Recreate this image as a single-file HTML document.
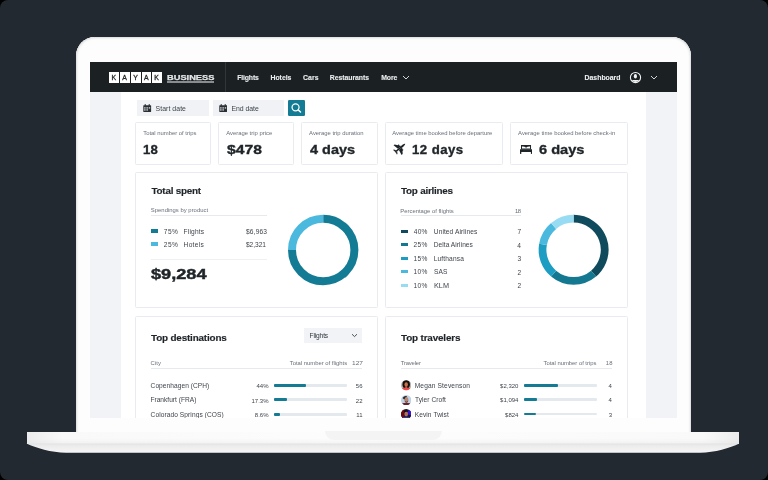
<!DOCTYPE html>
<html><head><meta charset="utf-8">
<style>
*{box-sizing:border-box;margin:0;padding:0}
html,body{width:768px;height:480px;overflow:hidden;background:#000;font-family:"Liberation Sans",sans-serif}
.a{position:absolute}
.t{position:absolute;line-height:1;white-space:nowrap}
#lid{left:76px;top:37px;width:615px;height:400px;background:#fdfdfd;border-radius:19px 19px 4px 4px;box-shadow:inset 0 0 0 1px #e2e3e4,inset 0 0 1.5px 2px #f1f1f1}
#screen{left:90px;top:62px;width:587px;height:355.5px;background:#fff;overflow:hidden;will-change:transform}
#base{left:26.5px;top:431.5px;width:712.8px;height:12.2px;background:linear-gradient(180deg,rgba(253,253,253,0) 0%,rgba(253,253,253,0) 55%,rgba(225,225,225,.35) 100%),linear-gradient(90deg,#ececec 0%,#f9f9f9 5%,#fdfdfd 50%,#f9f9f9 95%,#ececec 100%)}
#notch{left:325px;top:431px;width:117px;height:9px;background:#f4f4f5;border-radius:0 0 9px 9px}
.nav{background:#1b2023}
.navt{color:#eceeef;font-weight:700}
.card{position:absolute;border:1px solid #e8ecf0;background:#fff;border-radius:1.5px}
.lbl{color:#68707a}
.big{color:#1f2428;font-weight:700;-webkit-text-stroke:0.35px #1f2428}
.h{color:#1f2428;font-weight:700;-webkit-text-stroke:0.15px #1f2428}
.row{color:#3f454b}
.num{color:#3f454b}
</style></head><body>
<div class="a" style="left:0;top:0;width:768px;height:480px;background:#232930;border-radius:8px"></div>
<div id="lid" class="a"></div>
<div id="base" class="a"></div>
<svg class="a" style="left:0;top:0" width="768" height="480"><defs><linearGradient id="bg2" x1="0" y1="0" x2="0" y2="1"><stop offset="0" stop-color="#e3e3e3"/><stop offset="0.25" stop-color="#ececec"/><stop offset="1" stop-color="#f6f6f6"/></linearGradient></defs><path d="M26.5 443.6 H739.3 C730 448 715 452.7 700 452.7 H66 C51 452.7 36 448 26.5 443.6Z" fill="url(#bg2)"/></svg>
<div id="notch" class="a"></div>
<div id="screen" class="a"><div class="a" style="left:-90px;top:-62px;width:768px;height:480px">
<div class="a nav" style="left:90px;top:62px;width:587px;height:30px"></div>
<div class="a" style="left:109.1px;top:72.2px;width:9.9px;height:10.4px;background:#fff"></div>
<div class="t " style="left:111.41px;top:75.00px;font-size:6.900px;color:#1b2023;-webkit-text-stroke:0.3px #1b2023">K</div>
<div class="a" style="left:119.9px;top:72.2px;width:9.9px;height:10.4px;background:#fff"></div>
<div class="t " style="left:122.37px;top:75.00px;font-size:6.900px;color:#1b2023;-webkit-text-stroke:0.3px #1b2023">A</div>
<div class="a" style="left:130.8px;top:72.2px;width:9.9px;height:10.4px;background:#fff"></div>
<div class="t " style="left:133.27px;top:75.00px;font-size:6.900px;color:#1b2023;-webkit-text-stroke:0.3px #1b2023">Y</div>
<div class="a" style="left:141.5px;top:72.2px;width:9.9px;height:10.4px;background:#fff"></div>
<div class="t " style="left:143.89px;top:75.00px;font-size:6.900px;color:#1b2023;-webkit-text-stroke:0.3px #1b2023">A</div>
<div class="a" style="left:152.1px;top:72.2px;width:9.9px;height:10.4px;background:#fff"></div>
<div class="t " style="left:154.21px;top:75.00px;font-size:6.900px;color:#1b2023;-webkit-text-stroke:0.3px #1b2023">K</div>
<div class="t navt" style="left:166.52px;top:74.00px;font-size:7.300px;transform:scaleX(1.2708);transform-origin:0 0;color:#e3e5e6;-webkit-text-stroke:0.25px #e3e5e6">BUSINESS</div>
<div class="a" style="left:167px;top:81px;width:47px;height:2px;background:#8a8d90"></div>
<div class="a" style="left:225px;top:62px;width:1px;height:30px;background:#30363a"></div>
<div class="t navt" style="left:237.27px;top:75.00px;font-size:6.900px;letter-spacing:-0.167px;-webkit-text-stroke:0.1px #eceeef">Flights</div>
<div class="t navt" style="left:270.47px;top:75.00px;font-size:6.900px;letter-spacing:-0.015px;-webkit-text-stroke:0.1px #eceeef">Hotels</div>
<div class="t navt" style="left:302.98px;top:75.00px;font-size:6.900px;letter-spacing:0.084px;-webkit-text-stroke:0.1px #eceeef">Cars</div>
<div class="t navt" style="left:329.82px;top:75.00px;font-size:6.900px;letter-spacing:-0.062px;-webkit-text-stroke:0.1px #eceeef">Restaurants</div>
<div class="t navt" style="left:381.17px;top:75.00px;font-size:6.900px;letter-spacing:-0.094px;-webkit-text-stroke:0.1px #eceeef">More</div>
<div class="t navt" style="left:584.57px;top:75.00px;font-size:6.900px;letter-spacing:-0.008px;-webkit-text-stroke:0.1px #eceeef">Dashboard</div>
<svg class="a" style="left:402.3px;top:75px" width="8" height="5" viewBox="0 0 8 5"><path d="M1 1 L4 4 L7 1" fill="none" stroke="#e6e8e9" stroke-width="0.9"/></svg>
<svg class="a" style="left:629px;top:71px" width="13" height="13" viewBox="0 0 13 13"><circle cx="6.5" cy="6.5" r="5.1" fill="none" stroke="#f2f3f4" stroke-width="1.05"/><ellipse cx="6.4" cy="5.3" rx="1.55" ry="2.25" fill="#f2f3f4"/><path d="M2.7 9.1 H10.3 A4.6 4.6 0 0 1 2.7 9.1Z" fill="#f2f3f4"/></svg>
<svg class="a" style="left:650px;top:75px" width="8" height="5" viewBox="0 0 8 5"><path d="M1 1 L4 4 L7 1" fill="none" stroke="#e6e8e9" stroke-width="0.9"/></svg>
<div class="a" style="left:90px;top:92px;width:31px;height:330px;background:#f1f3f6"></div>
<div class="a" style="left:646px;top:92px;width:31px;height:330px;background:#f1f3f6"></div>
<div class="a" style="left:137px;top:99.8px;width:72px;height:16.4px;background:#f0f2f5"></div>
<div class="a" style="left:212.5px;top:99.8px;width:71.5px;height:16.4px;background:#f0f2f5"></div>
<div class="a" style="left:288.1px;top:99.5px;width:16.9px;height:16.6px;background:#147b95;border-radius:1.2px"></div>
<svg class="a" style="left:143px;top:103.6px" width="8.6" height="8.3" viewBox="0 0 9 9" preserveAspectRatio="none"><rect x="0.3" y="1.3" width="8.2" height="7.4" rx="0.6" fill="#2a2f33"/><rect x="1.8" y="0" width="1" height="2.2" fill="#2a2f33"/><rect x="6" y="0" width="1" height="2.2" fill="#2a2f33"/><rect x="1.2" y="3.6" width="1.5" height="1.3" fill="#f0f2f5"/><rect x="3.6" y="3.6" width="1.5" height="1.3" fill="#f0f2f5"/><rect x="6" y="3.6" width="1.5" height="1.3" fill="#f0f2f5"/><rect x="1.2" y="5.8" width="1.5" height="1.3" fill="#f0f2f5"/><rect x="3.6" y="5.8" width="1.5" height="1.3" fill="#f0f2f5"/></svg>
<svg class="a" style="left:218.7px;top:103.6px" width="8.6" height="8.3" viewBox="0 0 9 9" preserveAspectRatio="none"><rect x="0.3" y="1.3" width="8.2" height="7.4" rx="0.6" fill="#2a2f33"/><rect x="1.8" y="0" width="1" height="2.2" fill="#2a2f33"/><rect x="6" y="0" width="1" height="2.2" fill="#2a2f33"/><rect x="1.2" y="3.6" width="1.5" height="1.3" fill="#f0f2f5"/><rect x="3.6" y="3.6" width="1.5" height="1.3" fill="#f0f2f5"/><rect x="6" y="3.6" width="1.5" height="1.3" fill="#f0f2f5"/><rect x="1.2" y="5.8" width="1.5" height="1.3" fill="#f0f2f5"/><rect x="3.6" y="5.8" width="1.5" height="1.3" fill="#f0f2f5"/></svg>
<div class="t " style="left:155.58px;top:106.00px;font-size:6.900px;letter-spacing:0.053px;color:#3d4349">Start date</div>
<div class="t " style="left:231.46px;top:106.00px;font-size:6.900px;letter-spacing:-0.029px;color:#3d4349">End date</div>
<svg class="a" style="left:289px;top:100px" width="15" height="16" viewBox="0 0 15 16"><circle cx="6.55" cy="7.3" r="3.5" fill="none" stroke="#fff" stroke-width="1.25"/><path d="M9.2 9.9 L11.5 12" stroke="#fff" stroke-width="1.5" stroke-linecap="round"/></svg>
<div class="card" style="left:135px;top:122px;width:75.5px;height:42.8px"></div>
<div class="card" style="left:218px;top:122px;width:75.7px;height:42.8px"></div>
<div class="card" style="left:301px;top:122px;width:76.5px;height:42.8px"></div>
<div class="card" style="left:385px;top:122px;width:117.5px;height:42.8px"></div>
<div class="card" style="left:510px;top:122px;width:117.8px;height:42.8px"></div>
<div class="t lbl" style="left:143.21px;top:131.00px;font-size:5.900px;letter-spacing:-0.011px;">Total number of trips</div>
<div class="t lbl" style="left:226.20px;top:131.00px;font-size:5.900px;letter-spacing:-0.005px;">Average trip price</div>
<div class="t lbl" style="left:309.10px;top:131.00px;font-size:5.900px;letter-spacing:-0.012px;">Average trip duration</div>
<div class="t lbl" style="left:392.30px;top:131.00px;font-size:5.900px;letter-spacing:-0.019px;">Average time booked before departure</div>
<div class="t lbl" style="left:518.10px;top:131.00px;font-size:5.900px;letter-spacing:-0.012px;">Average time booked before check-in</div>
<div class="t big" style="left:142.88px;top:143.00px;font-size:13.200px;letter-spacing:0.171px;">18</div>
<div class="t big" style="left:226.80px;top:143.00px;font-size:13.200px;transform:scaleX(1.1916);transform-origin:0 0;">$478</div>
<div class="t big" style="left:309.50px;top:143.00px;font-size:13.200px;transform:scaleX(1.0971);transform-origin:0 0;">4 days</div>
<div class="t big" style="left:412.07px;top:143.00px;font-size:13.200px;letter-spacing:0.437px;">12 days</div>
<div class="t big" style="left:539.14px;top:143.00px;font-size:13.200px;transform:scaleX(1.1059);transform-origin:0 0;">6 days</div>
<svg class="a" style="left:392.4px;top:140.7px" width="15" height="15" viewBox="0 0 24 24"><g transform="rotate(-40 12 12)" fill="#1f2428"><path d="M3.2 10.8 L19.5 10.5 Q23.6 10.9 23.8 12 Q23.6 13.1 19.5 13.5 L3.2 13.2 Q2.4 12 3.2 10.8Z"/><path d="M16.8 10.8 L10.2 2 L8 2 L9.8 10.8Z"/><path d="M16.8 13.2 L10.2 22 L8 22 L9.8 13.2Z"/><path d="M6.2 10.8 L4 7.4 L2.6 7.4 L3.2 10.8Z"/><path d="M6.2 13.2 L4 16.6 L2.6 16.6 L3.2 13.2Z"/><rect x="12.6" y="6.2" width="2.8" height="1.8"/><rect x="12.6" y="16" width="2.8" height="1.8"/></g></svg>
<svg class="a" style="left:519.8px;top:144.8px" width="12.2" height="9" viewBox="0 0 12.2 9"><path d="M1 0 H11.05 V4.4 H1Z M2 1.55 Q3.8 1.3 5.35 1.9 L6.05 3.25 L6.75 1.9 Q8.3 1.3 10.05 1.55 V3.6 H2Z" fill="#1f2428" fill-rule="evenodd"/><rect x="0" y="4.2" width="12.2" height="2.9" rx="0.3" fill="#1f2428"/><rect x="0" y="6.6" width="1.3" height="2.3" fill="#1f2428"/><rect x="10.9" y="6.6" width="1.3" height="2.3" fill="#1f2428"/></svg>
<div class="card" style="left:135px;top:172.3px;width:243px;height:135.7px"></div>
<div class="card" style="left:385px;top:172.3px;width:242.8px;height:135.7px"></div>
<div class="card" style="left:135px;top:315.5px;width:243px;height:140px"></div>
<div class="card" style="left:385px;top:315.5px;width:242.8px;height:140px"></div>
<div class="t h" style="left:151.50px;top:186.00px;font-size:9.900px;letter-spacing:-0.232px;">Total spent</div>
<div class="t lbl" style="left:150.82px;top:208.00px;font-size:5.900px;letter-spacing:0.015px;">Spendings by product</div>
<div class="a" style="left:151px;top:214.7px;width:115.5px;height:1px;background:#e6eaee"></div>
<div class="a" style="left:151px;top:229.10px;width:7.2px;height:3.6px;background:#147b95"></div>
<div class="t row" style="left:163.69px;top:229.00px;font-size:6.600px;letter-spacing:0.548px;">75%</div>
<div class="t row" style="left:183.58px;top:229.00px;font-size:6.600px;letter-spacing:0.180px;">Flights</div>
<div class="t row" style="left:246.00px;top:229.00px;font-size:6.600px;letter-spacing:0.156px;">$6,963</div>
<div class="a" style="left:151px;top:242.30px;width:7.2px;height:3.6px;background:#4bb8dd"></div>
<div class="t row" style="left:163.69px;top:242.00px;font-size:6.600px;letter-spacing:0.548px;">25%</div>
<div class="t row" style="left:183.58px;top:242.00px;font-size:6.600px;letter-spacing:0.303px;">Hotels</div>
<div class="t row" style="left:246.00px;top:242.00px;font-size:6.600px;letter-spacing:-0.044px;">$2,321</div>
<div class="a" style="left:151px;top:259.3px;width:115.5px;height:1px;background:#eef1f4"></div>
<div class="t big" style="left:151.10px;top:266.00px;font-size:15.000px;transform:scaleX(1.2116);transform-origin:0 0;-webkit-text-stroke:0.45px #1f2428">$9,284</div>
<svg class="a" style="left:0;top:0" width="768" height="480"><path d="M323.20 218.80 A31.20 31.20 0 1 1 292.00 250.00" fill="none" stroke="#147b95" stroke-width="8"/><path d="M292.00 250.00 A31.20 31.20 0 0 1 323.20 218.80" fill="none" stroke="#4bb8dd" stroke-width="8"/><path d="M573.60 218.70 A31.10 31.10 0 0 1 593.59 273.62" fill="none" stroke="#0f4b5d" stroke-width="7.8"/><path d="M593.59 273.62 A31.10 31.10 0 0 1 553.61 273.62" fill="none" stroke="#147891" stroke-width="7.8"/><path d="M553.61 273.62 A31.10 31.10 0 0 1 542.97 244.40" fill="none" stroke="#1c9dc1" stroke-width="7.8"/><path d="M542.97 244.40 A31.10 31.10 0 0 1 553.61 225.98" fill="none" stroke="#4bb8dd" stroke-width="7.8"/><path d="M553.61 225.98 A31.10 31.10 0 0 1 573.60 218.70" fill="none" stroke="#97dcf3" stroke-width="7.8"/></svg>
<div class="t h" style="left:401.00px;top:186.00px;font-size:9.900px;letter-spacing:-0.239px;">Top airlines</div>
<div class="t lbl" style="left:400.34px;top:209.00px;font-size:5.900px;letter-spacing:-0.012px;">Percentage of flights</div>
<div class="t lbl" style="left:514.93px;top:209.00px;font-size:5.900px;letter-spacing:-0.455px;">18</div>
<div class="a" style="left:401px;top:214.7px;width:120px;height:1px;background:#e6eaee"></div>
<div class="a" style="left:401px;top:229.60px;width:7.2px;height:3.4px;background:#0f4b5d"></div>
<div class="t row" style="left:413.70px;top:229.00px;font-size:6.600px;letter-spacing:0.295px;">40%</div>
<div class="t row" style="left:433.79px;top:229.00px;font-size:6.600px;letter-spacing:0.090px;">United Airlines</div>
<div class="t num" style="left:517.40px;top:229.00px;font-size:6.600px;">7</div>
<div class="a" style="left:401px;top:243.10px;width:7.2px;height:3.4px;background:#147891"></div>
<div class="t row" style="left:413.49px;top:242.00px;font-size:6.600px;letter-spacing:0.398px;">25%</div>
<div class="t row" style="left:433.68px;top:242.00px;font-size:6.600px;letter-spacing:0.057px;">Delta Airlines</div>
<div class="t num" style="left:517.29px;top:243.00px;font-size:6.600px;">4</div>
<div class="a" style="left:401px;top:256.60px;width:7.2px;height:3.4px;background:#1c9dc1"></div>
<div class="t row" style="left:413.39px;top:256.00px;font-size:6.600px;letter-spacing:0.450px;">15%</div>
<div class="t row" style="left:433.68px;top:256.00px;font-size:6.600px;letter-spacing:0.148px;">Lufthansa</div>
<div class="t num" style="left:517.40px;top:256.00px;font-size:6.600px;">3</div>
<div class="a" style="left:401px;top:270.10px;width:7.2px;height:3.4px;background:#4bb8dd"></div>
<div class="t row" style="left:413.39px;top:269.00px;font-size:6.600px;letter-spacing:0.450px;">10%</div>
<div class="t row" style="left:433.99px;top:269.00px;font-size:6.600px;letter-spacing:0.138px;">SAS</div>
<div class="t num" style="left:517.40px;top:270.00px;font-size:6.600px;">2</div>
<div class="a" style="left:401px;top:283.60px;width:7.2px;height:3.4px;background:#97dcf3"></div>
<div class="t row" style="left:413.39px;top:283.00px;font-size:6.600px;letter-spacing:0.450px;">10%</div>
<div class="t row" style="left:433.63px;top:283.00px;font-size:6.600px;transform:scaleX(1.1023);transform-origin:0 0;">KLM</div>
<div class="t num" style="left:517.40px;top:283.00px;font-size:6.600px;">2</div>
<div class="t h" style="left:151.00px;top:333.00px;font-size:9.900px;letter-spacing:-0.164px;">Top destinations</div>
<div class="a" style="left:304.3px;top:327.5px;width:57.6px;height:15.8px;background:#f1f3f6"></div>
<div class="t row" style="left:309.49px;top:333.00px;font-size:6.600px;letter-spacing:-0.125px;color:#2f3439">Flights</div>
<svg class="a" style="left:351px;top:332.6px" width="7" height="5" viewBox="0 0 7 5"><path d="M1 1.2 L3.5 3.6 L6 1.2" fill="none" stroke="#3a3f44" stroke-width="0.9"/></svg>
<div class="t lbl" style="left:150.62px;top:361.00px;font-size:5.900px;letter-spacing:0.039px;">City</div>
<div class="t lbl" style="left:289.71px;top:361.00px;font-size:5.900px;letter-spacing:-0.006px;">Total number of flights</div>
<div class="t lbl" style="left:351.59px;top:361.00px;font-size:5.900px;transform:scaleX(1.1152);transform-origin:0 0;">127</div>
<div class="a" style="left:151px;top:367.5px;width:211px;height:1px;background:#e6eaee"></div>
<div class="t row" style="left:150.59px;top:383.00px;font-size:6.600px;letter-spacing:0.052px;">Copenhagen (CPH)</div>
<div class="t num" style="left:256.47px;top:383.00px;font-size:6.000px;">44%</div>
<div class="a" style="left:274.1px;top:383.80px;width:73px;height:2.9px;background:#e4e9ee;border-radius:1px"></div>
<div class="a" style="left:274.1px;top:383.80px;width:32.12px;height:2.9px;background:#147b95;border-radius:1px"></div>
<div class="t num" style="left:355.87px;top:383.00px;font-size:6.000px;">56</div>
<div class="t row" style="left:150.38px;top:397.00px;font-size:6.600px;letter-spacing:0.016px;">Frankfurt (FRA)</div>
<div class="t num" style="left:251.47px;top:398.00px;font-size:6.000px;">17.3%</div>
<div class="a" style="left:274.1px;top:398.40px;width:73px;height:2.9px;background:#e4e9ee;border-radius:1px"></div>
<div class="a" style="left:274.1px;top:398.40px;width:12.63px;height:2.9px;background:#147b95;border-radius:1px"></div>
<div class="t num" style="left:355.87px;top:398.00px;font-size:6.000px;">22</div>
<div class="t row" style="left:150.59px;top:412.00px;font-size:6.600px;letter-spacing:0.077px;">Colorado Springs (COS)</div>
<div class="t num" style="left:254.80px;top:412.00px;font-size:6.000px;">8.6%</div>
<div class="a" style="left:274.1px;top:413.00px;width:73px;height:2.9px;background:#e4e9ee;border-radius:1px"></div>
<div class="a" style="left:274.1px;top:413.00px;width:6.28px;height:2.9px;background:#147b95;border-radius:1px"></div>
<div class="t num" style="left:356.31px;top:412.00px;font-size:6.000px;">11</div>
<div class="t h" style="left:401.00px;top:333.00px;font-size:9.900px;letter-spacing:-0.153px;">Top travelers</div>
<div class="t lbl" style="left:400.81px;top:361.00px;font-size:5.900px;letter-spacing:-0.185px;">Traveler</div>
<div class="t lbl" style="left:543.51px;top:361.00px;font-size:5.900px;letter-spacing:-0.024px;">Total number of trips</div>
<div class="t lbl" style="left:605.63px;top:361.00px;font-size:5.900px;letter-spacing:0.345px;">18</div>
<div class="a" style="left:401px;top:367.5px;width:211px;height:1px;background:#e6eaee"></div>
<svg class="a" style="left:400.9px;top:380.20px" width="10.4" height="10.4" viewBox="0 0 20 20"><defs><clipPath id="cp0"><circle cx="10" cy="10" r="10"/></clipPath></defs><g clip-path="url(#cp0)"><rect width="20" height="20" fill="#b9b6ad"/><ellipse cx="10" cy="8.5" rx="7.2" ry="8" fill="#15100e"/><ellipse cx="10" cy="8.8" rx="3.4" ry="4.6" fill="#c7714d"/><rect x="8.4" y="12" width="3.2" height="4" fill="#a85a3c"/><path d="M0 20 L2 15.5 Q10 13 18 15.5 L20 20Z" fill="#ef4a4a"/></g></svg>
<div class="t row" style="left:414.68px;top:383.00px;font-size:6.600px;letter-spacing:0.149px;">Megan Stevenson</div>
<div class="t num" style="left:500.10px;top:383.00px;font-size:6.000px;">$2,320</div>
<div class="a" style="left:524.1px;top:383.80px;width:72.5px;height:2.9px;background:#e4e9ee;border-radius:1px"></div>
<div class="a" style="left:524.1px;top:383.80px;width:33.80px;height:2.9px;background:#147b95;border-radius:1px"></div>
<div class="t num" style="left:608.61px;top:383.00px;font-size:6.000px;">4</div>
<svg class="a" style="left:400.9px;top:394.60px" width="10.4" height="10.4" viewBox="0 0 20 20"><defs><clipPath id="cp1"><circle cx="10" cy="10" r="10"/></clipPath></defs><g clip-path="url(#cp1)"><rect width="20" height="20" fill="#bdd2e6"/><path d="M3 6 Q6 1 12 2.5 Q9 5 6.5 9 Z" fill="#2a2624"/><ellipse cx="10.5" cy="9" rx="3.8" ry="5" fill="#b98470"/><path d="M7 10 Q10.5 16 14 10 L13.5 13 Q10.5 16.5 7.5 13Z" fill="#4b4236"/><path d="M0 20 L2.5 16 Q10 13.5 17.5 16 L20 20Z" fill="#6e1f2e"/></g></svg>
<div class="t row" style="left:415.10px;top:397.00px;font-size:6.600px;letter-spacing:0.034px;">Tyler Croft</div>
<div class="t num" style="left:500.10px;top:397.00px;font-size:6.000px;">$1,094</div>
<div class="a" style="left:524.1px;top:398.20px;width:72.5px;height:2.9px;background:#e4e9ee;border-radius:1px"></div>
<div class="a" style="left:524.1px;top:398.20px;width:12.90px;height:2.9px;background:#147b95;border-radius:1px"></div>
<div class="t num" style="left:608.61px;top:397.00px;font-size:6.000px;">4</div>
<svg class="a" style="left:400.9px;top:409.00px" width="10.4" height="10.4" viewBox="0 0 20 20"><defs><clipPath id="cp2"><circle cx="10" cy="10" r="10"/></clipPath></defs><g clip-path="url(#cp2)"><rect width="20" height="20" fill="#1b1420"/><rect x="0" y="0" width="6" height="20" fill="#6a0a12"/><path d="M13 3 L20 3 L20 12 L14 11Z" fill="#3214dc"/><ellipse cx="10" cy="9.5" rx="3.6" ry="4.8" fill="#b26e5e"/><path d="M6 5 Q10 1.5 14 5 Q10 3.8 6 6.5Z" fill="#120c10"/><path d="M2 20 L4 15.5 Q10 13.5 16 15.5 L18 20Z" fill="#3a3a8a"/></g></svg>
<div class="t row" style="left:414.68px;top:412.00px;font-size:6.600px;letter-spacing:0.092px;">Kevin Twist</div>
<div class="t num" style="left:505.10px;top:412.00px;font-size:6.000px;">$824</div>
<div class="a" style="left:524.1px;top:412.60px;width:72.5px;height:2.9px;background:#e4e9ee;border-radius:1px"></div>
<div class="a" style="left:524.1px;top:412.60px;width:11.70px;height:2.9px;background:#147b95;border-radius:1px"></div>
<div class="t num" style="left:608.71px;top:412.00px;font-size:6.000px;">3</div>
</div></div>
</body></html>
